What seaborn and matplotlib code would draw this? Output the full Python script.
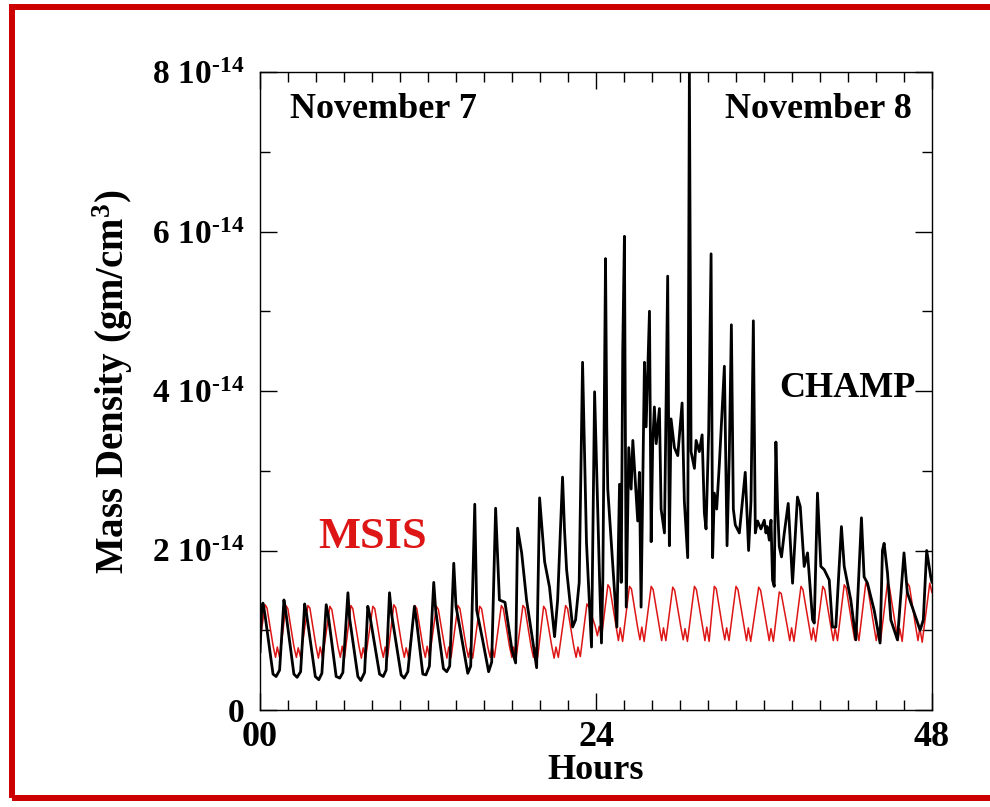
import matplotlib
matplotlib.use("Agg")
import matplotlib.pyplot as plt
import numpy as np
import pandas as pd
import seaborn as sns
from matplotlib.patches import Rectangle
from matplotlib.ticker import MultipleLocator

# CHAMP accelerometer mass density (units of 1e-14 g/cm^3) vs hours from Nov 7 00 UT
champ_hours = [
    0.00, 0.12, 0.21, 0.35, 0.93, 1.15, 1.40,
    1.71, 1.85, 2.42, 2.65, 2.90,
    3.19, 3.33, 3.95, 4.20, 4.42,
    4.73, 4.88, 5.44, 5.70, 5.92,
    6.28, 6.40, 6.99, 7.20, 7.47,
    7.70, 7.85, 8.54, 8.80, 9.01,
    9.25, 9.40, 10.08, 10.30, 10.56,
    11.03, 11.18, 11.63, 11.85, 12.10,
    12.41, 12.55, 13.10, 13.34, 13.55,
    13.84, 14.00, 14.27, 14.84, 15.05,
    15.34, 15.48, 15.90, 16.33, 16.55,
    16.83, 17.10, 17.50, 18.00, 18.26,
    18.40, 18.69, 19.04, 19.47, 19.76,
    19.97, 20.33, 20.68, 21.04, 21.26,
    21.61, 21.75, 21.90, 22.33, 22.54, 22.80,
    23.04, 23.32, 23.68, 23.90, 24.25, 24.39, 24.49,
    24.68, 24.77, 24.84, 25.09, 25.49, 25.68, 25.80, 25.91,
    26.03, 26.16, 26.34, 26.51, 26.63, 26.98, 27.10, 27.22,
    27.46, 27.58, 27.82, 27.94, 28.05, 28.17, 28.30, 28.53,
    28.65, 28.89, 29.01, 29.12, 29.24, 29.36, 29.60, 29.84,
    30.15, 30.31, 30.55, 30.67, 30.79, 31.03, 31.15, 31.38,
    31.58, 31.74, 31.86, 32.05, 32.22, 32.33, 32.45, 32.62,
    32.81, 33.17, 33.36, 33.52, 33.67, 33.81, 33.95, 34.24,
    34.66, 34.90, 35.07, 35.24, 35.38, 35.54, 35.78, 36.02,
    36.14, 36.23, 36.38, 36.50, 36.61, 36.73, 36.85, 36.97,
    37.09, 37.25, 37.45, 37.73, 37.92, 38.04, 38.39, 38.59,
    38.87, 39.11, 39.47, 39.59, 39.82, 40.06, 40.30, 40.66,
    40.89, 41.13, 41.53, 41.73, 42.20, 42.56, 42.96, 43.15,
    43.39, 43.87, 44.29, 44.46, 44.58, 44.82, 45.06, 45.53,
    46.00, 46.24, 46.67, 47.15, 47.38, 47.62, 47.91, 48.00,
]
champ_density = [
    0.72, 1.25, 1.34, 1.20, 0.45, 0.42, 0.50,
    1.38, 1.22, 0.45, 0.41, 0.48,
    1.33, 1.20, 0.42, 0.38, 0.46,
    1.32, 1.18, 0.42, 0.40, 0.47,
    1.47, 1.15, 0.42, 0.37, 0.47,
    1.30, 1.18, 0.45, 0.42, 0.50,
    1.47, 1.20, 0.44, 0.40, 0.48,
    1.30, 1.12, 0.45, 0.44, 0.55,
    1.60, 1.25, 0.52, 0.48, 0.55,
    1.84, 1.30, 1.04, 0.46, 0.55,
    2.58, 1.25, 0.88, 0.48, 0.60,
    2.53, 1.38, 1.35, 0.75, 0.59,
    2.28, 1.97, 1.38, 0.88, 0.53,
    2.66, 1.86, 1.54, 0.92, 1.38,
    2.92, 2.26, 1.76, 1.04, 1.13, 1.60,
    4.36, 2.10, 0.79, 3.99, 1.67, 0.84, 1.66,
    5.66, 3.55, 2.77, 2.11, 1.04, 2.83, 1.60, 4.51,
    5.94, 1.29, 3.29, 2.77, 3.38, 2.37, 2.98, 1.29,
    4.36, 3.55, 5.00, 2.11, 3.34, 3.80, 3.34, 3.78,
    2.52, 2.22, 3.95, 5.44, 2.06, 3.65, 3.29, 3.19,
    3.85, 2.62, 1.91, 8.00, 3.24, 3.03, 3.38, 3.24,
    3.45, 2.47, 2.27, 3.50, 5.72, 1.91, 2.72, 2.52,
    3.08, 4.31, 2.06, 3.19, 4.83, 2.52, 2.32, 2.22,
    2.98, 2.00, 2.62, 4.88, 2.22, 2.37, 2.27, 2.38,
    2.22, 2.30, 2.13, 2.38, 1.63, 1.55, 3.36, 2.55,
    2.05, 1.92, 2.22, 2.59, 1.97, 1.59, 2.67, 2.55,
    1.80, 1.97, 1.13, 1.09, 2.72, 1.80, 1.76, 1.63,
    1.04, 1.04, 2.30, 1.80, 1.38, 0.88, 2.41, 1.67,
    1.59, 1.25, 0.84, 2.00, 2.09, 1.72, 1.13, 0.88,
    1.97, 1.47, 1.25, 1.00, 1.13, 2.00, 1.67, 1.60,
]

# MSIS model density along the orbit (units of 1e-14 g/cm^3)
msis_hours = [
    0.00,
    0.36, 0.50, 0.94, 1.11, 1.24, 1.41,
    1.85, 1.99, 2.43, 2.60, 2.73, 2.90,
    3.42, 3.56, 4.00, 4.17, 4.30, 4.47,
    4.99, 5.13, 5.57, 5.74, 5.87, 6.04,
    6.49, 6.63, 7.07, 7.24, 7.37, 7.54,
    8.06, 8.20, 8.64, 8.81, 8.94, 9.11,
    9.56, 9.70, 10.14, 10.31, 10.44, 10.61,
    11.06, 11.20, 11.64, 11.81, 11.94, 12.11,
    12.60, 12.74, 13.18, 13.35, 13.48, 13.65,
    14.14, 14.28, 14.72, 14.89, 15.02, 15.19,
    15.69, 15.83, 16.27, 16.44, 16.57, 16.74,
    17.24, 17.38, 17.82, 17.99, 18.12, 18.29,
    18.78, 18.92, 19.36, 19.53, 19.66, 19.83,
    20.26, 20.40, 20.84, 21.01, 21.14, 21.31,
    21.83, 21.97, 22.41, 22.58, 22.71, 22.88,
    23.35, 23.49, 23.93, 24.10, 24.23, 24.40,
    24.85, 24.99, 25.43, 25.60, 25.73, 25.90,
    26.39, 26.53, 26.97, 27.14, 27.27, 27.44,
    27.94, 28.08, 28.52, 28.69, 28.82, 28.99,
    29.48, 29.62, 30.06, 30.23, 30.36, 30.53,
    31.03, 31.17, 31.61, 31.78, 31.91, 32.08,
    32.45, 32.59, 33.03, 33.20, 33.33, 33.50,
    34.00, 34.14, 34.58, 34.75, 34.88, 35.05,
    35.62, 35.76, 36.20, 36.37, 36.50, 36.67,
    37.09, 37.23, 37.67, 37.84, 37.97, 38.14,
    38.64, 38.78, 39.22, 39.39, 39.52, 39.69,
    40.20, 40.34, 40.78, 40.95, 41.08, 41.25,
    41.73, 41.87, 42.31, 42.48, 42.61, 42.78,
    43.27, 43.41, 43.85, 44.02, 44.15, 44.32,
    44.82, 44.96, 45.40, 45.57, 45.70, 45.87,
    46.25, 46.39, 46.83, 47.00, 47.13, 47.30,
    47.84, 48.00,
]
msis_density = [
    0.86,
    1.32, 1.28, 0.80, 0.66, 0.79, 0.65,
    1.31, 1.27, 0.79, 0.66, 0.78, 0.66,
    1.31, 1.28, 0.80, 0.65, 0.79, 0.65,
    1.30, 1.26, 0.79, 0.66, 0.80, 0.66,
    1.31, 1.27, 0.80, 0.65, 0.78, 0.65,
    1.30, 1.27, 0.79, 0.66, 0.79, 0.66,
    1.32, 1.28, 0.80, 0.66, 0.78, 0.65,
    1.31, 1.27, 0.79, 0.66, 0.80, 0.66,
    1.30, 1.26, 0.80, 0.65, 0.79, 0.66,
    1.31, 1.27, 0.80, 0.66, 0.78, 0.65,
    1.30, 1.27, 0.79, 0.66, 0.80, 0.66,
    1.31, 1.27, 0.80, 0.66, 0.79, 0.65,
    1.31, 1.28, 0.80, 0.66, 0.78, 0.66,
    1.30, 1.26, 0.80, 0.65, 0.79, 0.66,
    1.31, 1.27, 0.80, 0.66, 0.79, 0.67,
    1.33, 1.29, 1.06, 0.93, 1.05, 0.92,
    1.57, 1.53, 1.05, 0.87, 1.03, 0.86,
    1.55, 1.52, 1.04, 0.88, 1.04, 0.86,
    1.55, 1.51, 1.05, 0.87, 1.03, 0.87,
    1.54, 1.50, 1.04, 0.88, 1.02, 0.86,
    1.55, 1.51, 1.05, 0.87, 1.04, 0.86,
    1.55, 1.52, 1.04, 0.88, 1.03, 0.87,
    1.55, 1.51, 1.05, 0.87, 1.03, 0.86,
    1.54, 1.50, 1.04, 0.87, 1.02, 0.86,
    1.48, 1.46, 1.04, 0.87, 1.03, 0.86,
    1.55, 1.51, 1.05, 0.88, 1.03, 0.86,
    1.55, 1.51, 1.04, 0.87, 1.03, 0.87,
    1.57, 1.53, 1.05, 0.88, 1.04, 0.87,
    1.59, 1.54, 1.05, 0.87, 1.03, 0.86,
    1.59, 1.54, 1.05, 0.87, 1.02, 0.86,
    1.59, 1.55, 1.05, 0.87, 1.03, 0.85,
    1.59, 1.47,
]

x_tick_values = [0, 24, 48]
x_tick_labels = ["00", "24", "48"]
y_tick_values = [0, 2, 4, 6, 8]
y_tick_labels = ["0",
                 r"$2\ 10^{\text{-14}}$", r"$4\ 10^{\text{-14}}$",
                 r"$6\ 10^{\text{-14}}$", r"$8\ 10^{\text{-14}}$"]

champ = pd.DataFrame({"hours": champ_hours, "density": champ_density})
msis = pd.DataFrame({"hours": msis_hours, "density": msis_density})

sns.set_style("ticks")
plt.rcParams["font.family"] = ["Liberation Serif", "DejaVu Serif"]
plt.rcParams["font.weight"] = "bold"
plt.rcParams["mathtext.fontset"] = "custom"
plt.rcParams["mathtext.rm"] = "Liberation Serif:bold"
plt.rcParams["mathtext.it"] = "Liberation Serif:bold"
plt.rcParams["mathtext.bf"] = "Liberation Serif:bold"
plt.rcParams["axes.linewidth"] = 1.0
for key in ["text.color", "axes.labelcolor", "xtick.color", "ytick.color",
            "axes.edgecolor"]:
    plt.rcParams[key] = "black"

RED = "#dd1515"

fig = plt.figure(figsize=(9.9, 8.07), dpi=100)
ax = fig.add_axes([260 / 990, 97 / 807, 672 / 990, 638 / 807])

sns.lineplot(data=msis, x="hours", y="density", ax=ax, color=RED,
             linewidth=1.1, estimator=None, sort=False)
sns.lineplot(data=champ, x="hours", y="density", ax=ax, color="black",
             linewidth=2.0, estimator=None, sort=False)

ax.set_xlim(0, 48)
ax.set_ylim(0, 8)
ax.set_xticks(x_tick_values)
ax.set_xticklabels(x_tick_labels)
ax.set_yticks(y_tick_values)
ax.set_yticklabels(y_tick_labels)
ax.xaxis.set_minor_locator(MultipleLocator(2))
ax.yaxis.set_minor_locator(MultipleLocator(1))
ax.tick_params(which="major", direction="in", length=12, width=1.0,
               top=True, right=True, color="black")
ax.tick_params(axis="x", which="major", labelsize=26, pad=8)
ax.tick_params(axis="y", which="major", labelsize=24, pad=11)
ax.tick_params(which="minor", direction="in", length=7, width=1.0,
               top=True, right=True, color="black")
for lbl in ax.get_xticklabels() + ax.get_yticklabels():
    lbl.set_fontweight("bold")
    lbl.set_color("black")

for side in ["left", "right", "top", "bottom"]:
    ax.spines[side].set_visible(True)
    ax.spines[side].set_color("black")

ax.set_xlabel("Hours", fontsize=26, fontweight="bold", labelpad=0)
ax.set_ylabel(r"Mass Density (gm/cm$^{3}$)", fontsize=28, fontweight="bold")
ax.yaxis.set_label_coords(-0.186, 0.515)

ax.text(0.045, 0.928, "November 7", transform=ax.transAxes, fontsize=26,
        fontweight="bold", ha="left", va="baseline", color="black")
ax.text(0.970, 0.928, "November 8", transform=ax.transAxes, fontsize=26,
        fontweight="bold", ha="right", va="baseline", color="black")
ax.text(0.975, 0.491, "CHAMP", transform=ax.transAxes, fontsize=26,
        fontweight="bold", ha="right", va="baseline", color="black")
ax.text(0.0863, 0.254, "MSIS", transform=ax.transAxes, fontsize=32,
        fontweight="bold", ha="left", va="baseline", color=RED)

# frame around the whole figure
fig.patches.append(Rectangle((11.5 / 990, 9.5 / 807), (1010 - 11.5) / 990,
                             (800 - 7.5 - 2) / 807, transform=fig.transFigure,
                             fill=False, edgecolor="#cc0000", linewidth=4.3,
                             clip_on=False))

fig.savefig("out.png", dpi=100)
